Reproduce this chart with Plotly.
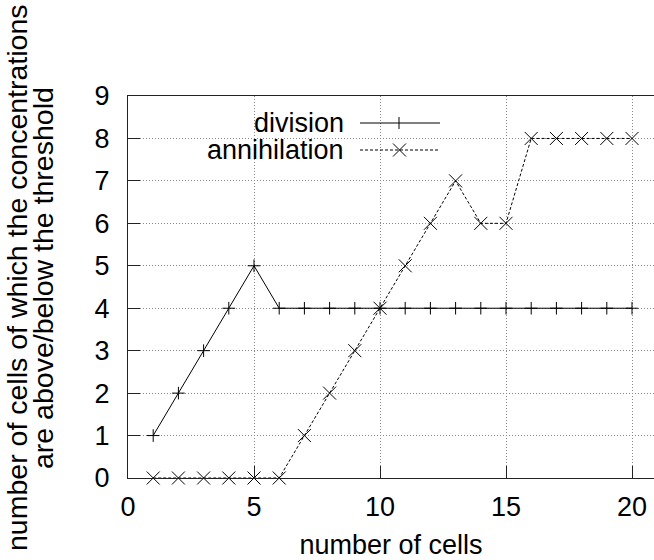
import plotly.graph_objects as go

# ---- data ----
cells = list(range(1, 21))
division = [1, 2, 3, 4, 5, 4, 4, 4, 4, 4, 4, 4, 4, 4, 4, 4, 4, 4, 4, 4]
annihilation = [0, 0, 0, 0, 0, 0, 1, 2, 3, 4, 5, 6, 7, 6, 6, 8, 8, 8, 8, 8]
x_ticks = [0, 5, 10, 15, 20]
y_ticks = list(range(0, 10))
series_names = ["division", "annihilation"]
x_title = "number of cells"
y_title_lines = ["number of cells of which the concentrations",
                 "are above/below the threshold"]

# ---- layout geometry (pixels) ----
W, H = 654, 560
L, R, T, B = 128, 654, 96, 478
FONT = "Liberation Sans"
FS = 27


def px(p):
    return (p - L) / (R - L)


def py(p):
    return (B - p) / (B - T)


fig = go.Figure()
fig.add_trace(go.Scatter(
    x=cells, y=division, name=series_names[0], mode="lines+markers",
    line=dict(color="black", width=1),
    marker=dict(symbol="cross-thin-open", size=9, color="black",
                line=dict(color="black", width=1)),
    cliponaxis=False, showlegend=False))
fig.add_trace(go.Scatter(
    x=cells, y=annihilation, name=series_names[1], mode="lines+markers",
    line=dict(color="black", width=1, dash="3px,2px"),
    marker=dict(symbol="x-thin-open", size=13, color="black",
                line=dict(color="black", width=1)),
    cliponaxis=False, showlegend=False))

shapes = []
annotations = []
# opaque key box masking the grid
shapes.append(dict(type="rect", xref="paper", yref="paper",
                   x0=px(140), x1=px(455), y0=py(163), y1=py(104),
                   fillcolor="white", line=dict(width=0), layer="between"))
# key entries (text left, sample right)
key_rows = [(123, "solid", "plus"), (150, "3px,2px", "x")]
for (yy, dash, sym), name in zip(key_rows, series_names):
    annotations.append(dict(text=name, xref="paper", yref="paper",
                            x=px(346), y=py(yy), xanchor="right", yanchor="middle",
                            showarrow=False, font=dict(family=FONT, size=FS, color="black")))
    shapes.append(dict(type="line", xref="paper", yref="paper",
                       x0=px(360), x1=px(440), y0=py(yy), y1=py(yy),
                       line=dict(color="black", width=1, dash=dash)))
    if sym == "plus":
        shapes.append(dict(type="line", xref="paper", yref="paper",
                           x0=px(399), x1=px(399), y0=py(yy - 6), y1=py(yy + 6),
                           line=dict(color="black", width=1)))
    else:
        shapes.append(dict(type="line", xref="paper", yref="paper",
                           x0=px(393), x1=px(406), y0=py(yy - 6.5), y1=py(yy + 6.5),
                           line=dict(color="black", width=1)))
        shapes.append(dict(type="line", xref="paper", yref="paper",
                           x0=px(393), x1=px(406), y0=py(yy + 6.5), y1=py(yy - 6.5),
                           line=dict(color="black", width=1)))

# y-axis title, two rotated lines
for xc, yc, txt in [(17, 278, y_title_lines[0]), (43, 278, y_title_lines[1])]:
    annotations.append(dict(text=txt, xref="paper", yref="paper",
                            x=px(xc), y=py(yc), xanchor="center", yanchor="middle",
                            textangle=-90, showarrow=False,
                            font=dict(family=FONT, size=28.5, color="black")))

axis_common = dict(
    showline=True, linecolor="#222", linewidth=1, mirror=True,
    ticks="inside", ticklen=12, tickcolor="#222", tickwidth=1,
    showgrid=True, gridcolor="#888", gridwidth=1, griddash="1px,2px",
    zeroline=False,
    tickfont=dict(family=FONT, size=FS, color="black"),
)

fig.update_layout(
    width=W, height=H,
    margin=dict(l=L, r=W - R, t=T, b=H - B, autoexpand=False),
    paper_bgcolor="white", plot_bgcolor="white",
    font=dict(family=FONT, size=FS, color="black"),
    xaxis=dict(range=[0, 20 * (R - L) / 504], tickvals=x_ticks,
               ticktext=[str(v) for v in x_ticks], ticklabelstandoff=5,
               title=dict(text=x_title, standoff=17,
                          font=dict(family=FONT, size=FS, color="black")),
               **axis_common),
    yaxis=dict(range=[0, 9], tickvals=y_ticks,
               ticktext=[str(v) for v in y_ticks], ticklabelstandoff=12,
               **axis_common),
    shapes=shapes, annotations=annotations, showlegend=False,
)

fig.write_html(
    "out.html",
    config={"displayModeBar": False},
    post_script="document.body.style.margin='0';document.body.style.overflow='hidden';",
)
